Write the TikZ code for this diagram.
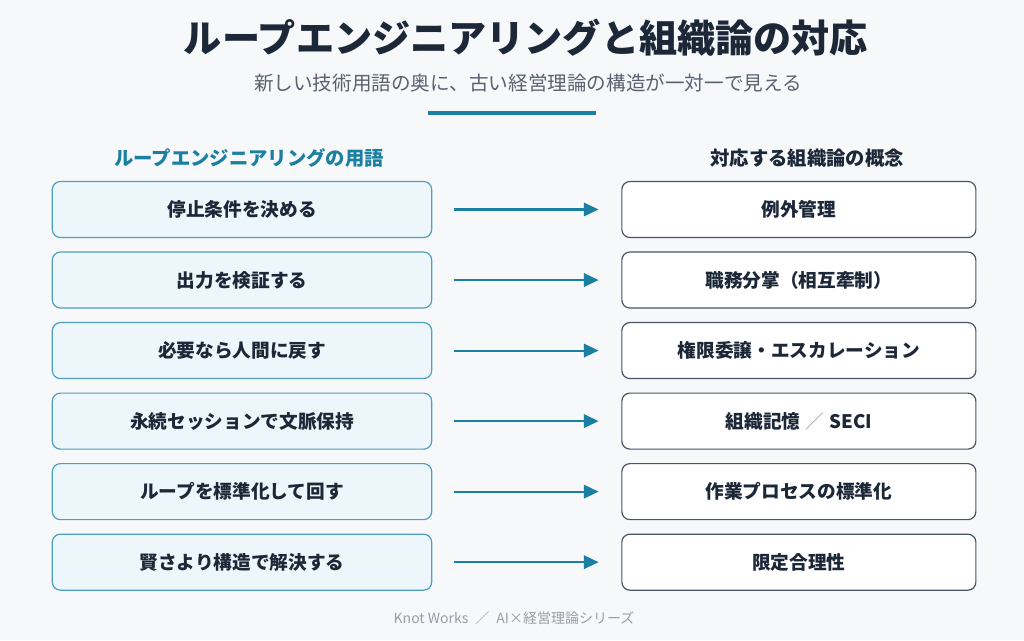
\documentclass[tikz,border=0pt]{standalone}
\usepackage{fontspec}
\setmainfont{Noto Sans CJK JP}
\usepackage{tikz}
\usetikzlibrary{arrows.meta,positioning}
\definecolor{kwBg}{HTML}{F6F8FA}
\definecolor{kwTeal}{HTML}{1A7FA0}
\definecolor{kwTealL}{HTML}{EDF6FA}
\definecolor{kwTealB}{HTML}{4F9FBD}
\definecolor{kwNavy}{HTML}{1C2738}
\definecolor{kwSlate}{HTML}{4A5466}
\definecolor{kwGray}{HTML}{5A6270}
\definecolor{kwGrayL}{HTML}{9A9EA6}

\begin{document}
\begin{tikzpicture}[
  x=0.75pt, y=-0.75pt,
  base/.style  = {rounded corners=6pt, align=center, inner sep=0pt,
                  minimum height=42pt, line width=0.9pt,
                  font=\fontsize{14}{16}\selectfont\bfseries, text=kwNavy},
  lnode/.style = {base, fill=kwTealL, draw=kwTealB, minimum width=284.5pt},
  rnode/.style = {base, fill=white,   draw=kwSlate, minimum width=265.5pt},
  arr/.style   = {-{Triangle[length=11pt,width=10pt]}, line width=1.6pt,
                  draw=kwTeal, shorten <=16pt, shorten >=17pt},
  head/.style  = {font=\fontsize{14.5}{17}\selectfont\bfseries},
]
\useasboundingbox[fill=kwBg] (0,0) rectangle (1024,640);

%── Title block ───────────────────────────────────────────────────────────────
\node[font=\fontsize{28.6}{32}\selectfont\bfseries, text=kwNavy] (title)
    at (526,38) {ループエンジニアリングと組織論の対応};
\node[font=\fontsize{14.7}{17}\selectfont, text=kwGray] (sub)
    at (528,83) {新しい技術用語の奥に、古い経営理論の構造が一対一で見える};
\coordinate (ra) at (428,113);
\coordinate (rb) at (596,113);
\draw[kwTeal, line width=3pt] (ra) -- (rb);

%── Column headers ────────────────────────────────────────────────────────────
\node[head, text=kwTeal] (lh) at (249,158) {ループエンジニアリングの用語};
\node[head, text=kwNavy] (rh) at (807,158) {対応する組織論の概念};

%── Left column: loop engineering terms ───────────────────────────────────────
\node[lnode] (l1) at (242,209.5) {停止条件を決める};
\node[lnode, below=10pt of l1] (l2) {出力を検証する};
\node[lnode, below=10pt of l2] (l3) {必要なら人間に戻す};
\node[lnode, below=10pt of l3] (l4) {永続セッションで文脈保持};
\node[lnode, below=10pt of l4] (l5) {ループを標準化して回す};
\node[lnode, below=10pt of l5] (l6) {賢さより構造で解決する};

%── Right column: organisation theory ─────────────────────────────────────────
\node[rnode, right=141.75pt of l1] (r1) {例外管理};
\node[rnode, right=141.75pt of l2] (r2) {職務分掌（相互牽制）};
\node[rnode, right=141.75pt of l3] (r3) {権限委譲・エスカレーション};
\node[rnode, right=141.75pt of l4] (r4)
    {組織記憶\;{\mdseries\color{kwGrayL}／}\;SECI};
\node[rnode, right=141.75pt of l5] (r5) {作業プロセスの標準化};
\node[rnode, right=141.75pt of l6] (r6) {限定合理性};

\draw[arr] (l1) -- (r1);
\draw[arr] (l2) -- (r2);
\draw[arr] (l3) -- (r3);
\draw[arr] (l4) -- (r4);
\draw[arr] (l5) -- (r5);
\draw[arr] (l6) -- (r6);

%── Footer ────────────────────────────────────────────────────────────────────
\node[font=\fontsize{10.5}{12}\selectfont, text=kwGrayL] (foot)
    at (514,618) {Knot Works\; ／\; AI×経営理論シリーズ};
\end{tikzpicture}
\end{document}
